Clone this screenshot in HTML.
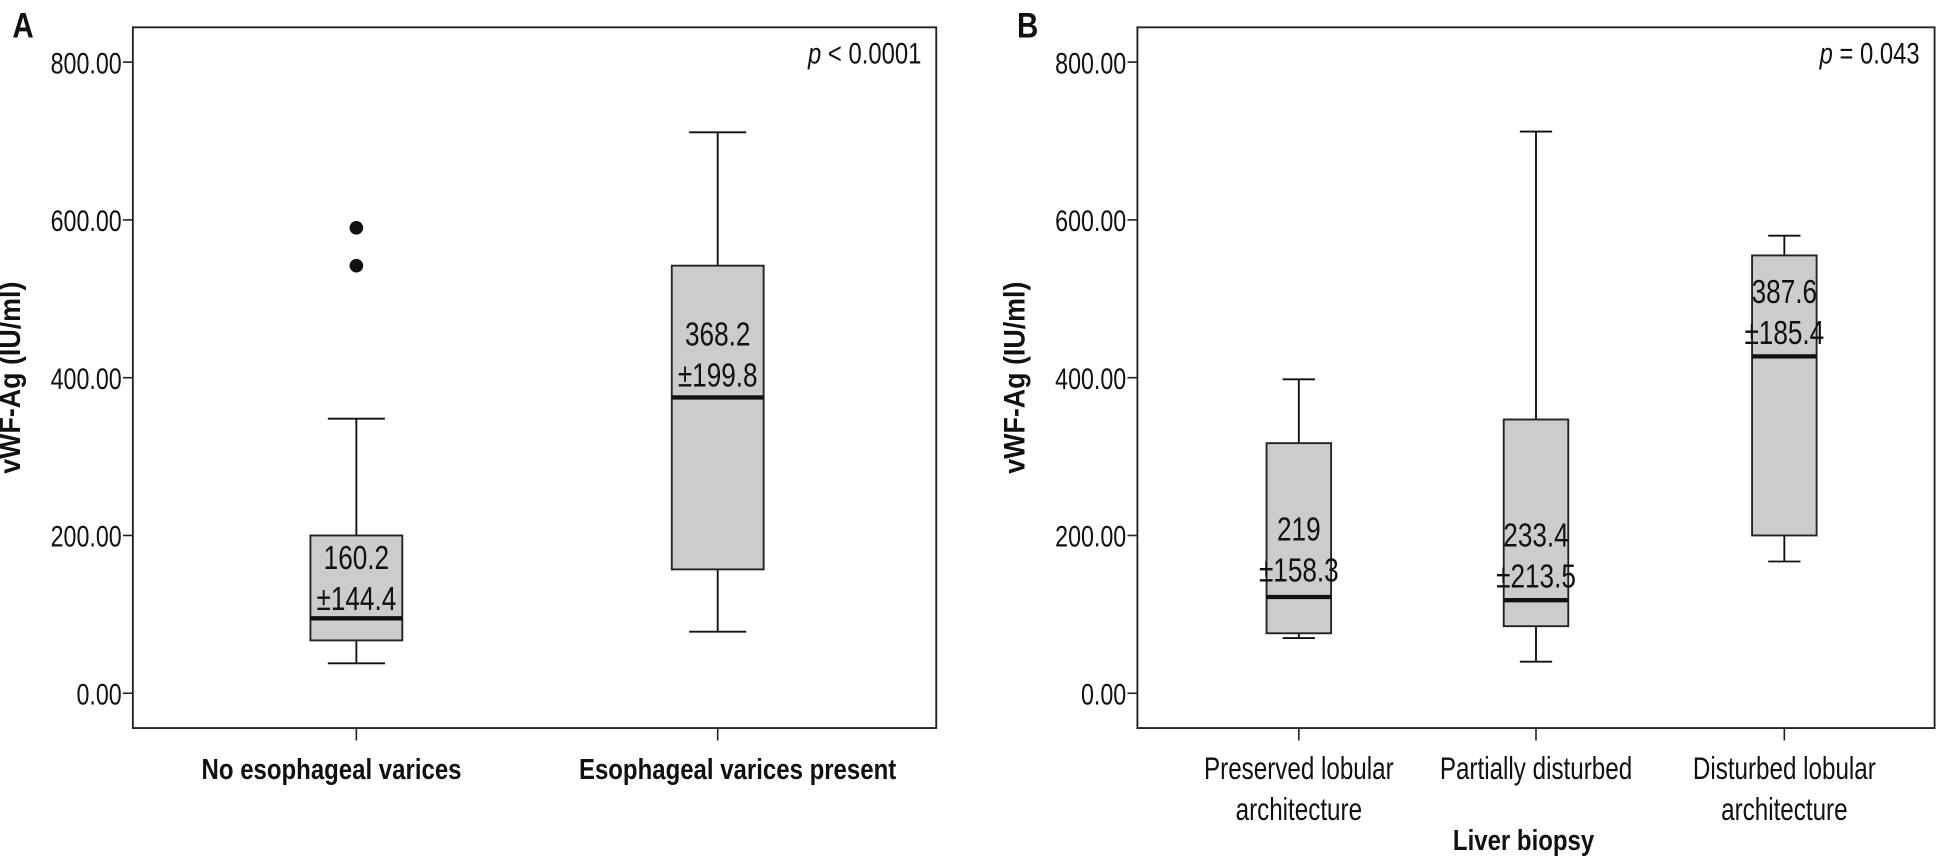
<!DOCTYPE html>
<html><head><meta charset="utf-8"><style>
html,body{margin:0;padding:0;background:#fff;}
svg{display:block;}
text{font-family:"Liberation Sans",sans-serif;fill:#111;}
</style></head><body>
<svg id="chart" width="1947" height="856" viewBox="0 0 1568 689" preserveAspectRatio="none" xmlns="http://www.w3.org/2000/svg"></svg>
<script>
const ticks=[0,200,400,600,800];
const tickLabels=["0.00","200.00","400.00","600.00","800.00"];
const catsA=["No esophageal varices","Esophageal varices present"];
const minA=[38,78], q1A=[67,157], medA=[95,375], q3A=[200,542], maxA=[348,711];
const outA=[[590,542],[]];
const meanA=["160.2","368.2"], sdA=["±144.4","±199.8"];
const catsB=[["Preserved lobular","architecture"],["Partially disturbed"],["Disturbed lobular","architecture"]];
const minB=[70,40,167], q1B=[76,85,200], medB=[122,118,427], q3B=[317,347,555], maxB=[398,712,580];
const meanB=["219","233.4","387.6"], sdB=["±158.3","±213.5","±185.4"];

const svg=document.getElementById('chart');
const NS="http://www.w3.org/2000/svg";
function mk(tag,attrs,parent){const e=document.createElementNS(NS,tag);for(const k in attrs)e.setAttribute(k,attrs[k]);(parent||svg).appendChild(e);return e;}
function txt(parent,x,y,s,size,anchor,sx,extra){
  const a={transform:`translate(${x},${y}) scale(${sx},1)`,'font-size':size,'text-anchor':anchor};
  for(const k in (extra||{}))a[k]=extra[k];
  const t=mk('text',a,parent);t.textContent=s;return t;}
function y(v){return 558-v*(508/800);}

function panel(cfg){
  const g=mk('g',{});
  
  
  const f=mk('rect',{x:cfg.L,y:22,width:cfg.R-cfg.L,height:564,fill:'none',stroke:'#222','stroke-width':1.5},g);
  
  
  const lt=txt(g,cfg.L-97,30,cfg.letter,28,'start',0.85,{'font-weight':'bold'});
  
  
  ticks.forEach((t,i)=>{
    mk('line',{x1:cfg.L-8,x2:cfg.L,y1:y(t),y2:y(t),stroke:'#222','stroke-width':1.3},g);
    const tx=txt(g,cfg.L-9,y(t)+9,tickLabels[i],24,'end',0.78);
    
    
  });
  const yt=mk('text',{transform:`translate(${cfg.L-91},304) rotate(-90) scale(0.9,1)`,'font-size':24,'font-weight':'bold','text-anchor':'middle'},g);
  yt.textContent='vWF-Ag (IU/ml)';
  
  
  const p=mk('text',{transform:`translate(${cfg.R-12},51) scale(0.8,1)`,'font-size':24,'text-anchor':'end'},g);
  p.innerHTML='<tspan font-style="italic">p</tspan> '+cfg.p;
  
  
  cfg.cx.forEach((cx,i)=>{
    const b=mk('g',{},g);
    
    
    const hw=cfg.hw, cap=cfg.cap;
    mk('line',{x1:cx,x2:cx,y1:y(cfg.max[i]),y2:y(cfg.q3[i]),stroke:'#111','stroke-width':1.5},b);
    mk('line',{x1:cx,x2:cx,y1:y(cfg.q1[i]),y2:y(cfg.min[i]),stroke:'#111','stroke-width':1.5},b);
    mk('line',{x1:cx-cap,x2:cx+cap,y1:y(cfg.max[i]),y2:y(cfg.max[i]),stroke:'#111','stroke-width':1.5},b);
    mk('line',{x1:cx-cap,x2:cx+cap,y1:y(cfg.min[i]),y2:y(cfg.min[i]),stroke:'#111','stroke-width':1.5},b);
    mk('rect',{x:cx-hw,y:y(cfg.q3[i]),width:2*hw,height:y(cfg.q1[i])-y(cfg.q3[i]),fill:'#cccccc',stroke:'#222','stroke-width':1.5},b);
    mk('line',{x1:cx-hw,x2:cx+hw,y1:y(cfg.med[i]),y2:y(cfg.med[i]),stroke:'#111','stroke-width':3.5},b);
    (cfg.out&&cfg.out[i]||[]).forEach(o=>{const c=mk('circle',{cx:cx,cy:y(o),r:5.5,fill:'#111'},b);
      
      });
    const m1=txt(b,cx,cfg.ty[i],cfg.mean[i],27,'middle',0.78);
    
    
    const m2=txt(b,cx,cfg.ty[i]+33,cfg.sd[i],27,'middle',0.78);
    
    
    mk('line',{x1:cx,x2:cx,y1:586,y2:596,stroke:'#222','stroke-width':1.3},g);
    const lines=Array.isArray(cfg.cats[i])?cfg.cats[i]:[cfg.cats[i]];
    const lx=cx+(cfg.catDx?cfg.catDx[i]:0);
    lines.forEach((s,j)=>{const t=txt(g,lx,627+j*33,s,cfg.catSize,'middle',cfg.catSx,{'font-weight':cfg.catBold?'bold':'normal'});
      
      });
  });
}
panel({name:'panel-a',letter:'A',L:107,R:754,p:'< 0.0001',cx:[287,578],hw:37,cap:23,
  min:minA,q1:q1A,med:medA,q3:q3A,max:maxA,out:outA,mean:meanA,sd:sdA,ty:[458,278],cats:catsA,catSize:23,catSx:0.84,catBold:true,catDx:[-20,16]});
panel({name:'panel-b',letter:'B',L:916,R:1558,p:'= 0.043',cx:[1046,1237,1437],hw:26,cap:13,
  min:minB,q1:q1B,med:medB,q3:q3B,max:maxB,mean:meanB,sd:sdB,ty:[435,440,244],cats:catsB,catSize:25,catSx:0.78,catBold:false});
const xt=mk('text',{transform:'translate(1227,684) scale(0.84,1)','font-size':23,'font-weight':'bold','text-anchor':'middle'});
xt.textContent='Liver biopsy';


</script>
</body></html>
